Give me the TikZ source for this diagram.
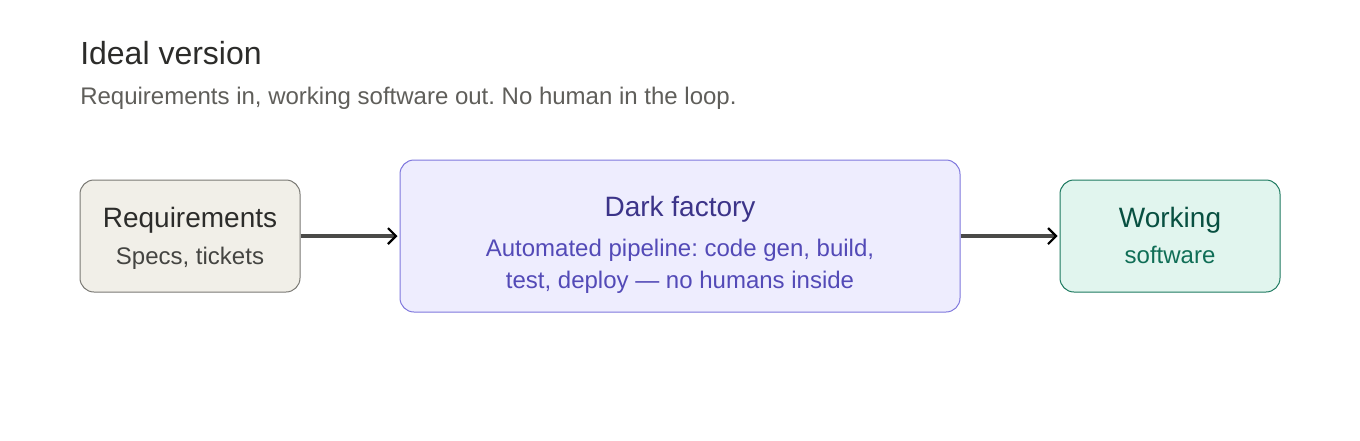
\documentclass[tikz,border=0pt]{standalone}
\usepackage{fontspec}
\setmainfont{Liberation Sans}
\frenchspacing
\usetikzlibrary{arrows.meta}
\definecolor{titlec}{HTML}{2C2C2A}
\definecolor{subc}{HTML}{5F5E5A}
\definecolor{reqfill}{HTML}{F1EFE8}
\definecolor{reqdraw}{HTML}{7A7974}
\definecolor{reqtext}{HTML}{2C2C2A}
\definecolor{reqsub}{HTML}{444441}
\definecolor{dffill}{HTML}{EEEDFE}
\definecolor{dfdraw}{HTML}{7F77DD}
\definecolor{dftext}{HTML}{3C3489}
\definecolor{dfsub}{HTML}{534AB7}
\definecolor{wkfill}{HTML}{E1F5EE}
\definecolor{wkdraw}{HTML}{1D7A60}
\definecolor{wktext}{HTML}{085041}
\definecolor{wksub}{HTML}{0F6E56}
\definecolor{arrowc}{HTML}{4A4A48}
\tikzset{
  box/.style={rounded corners=10.5pt, line width=0.75pt, inner sep=0pt},
  lbl/.style={anchor=base, inner sep=0pt},
  conn/.style={draw=arrowc, line width=2.4pt, -{Straight Barb[length=6pt,width=12pt,line width=1.6pt,color=black]}, shorten >=1.5pt},
}
\begin{document}
\begin{tikzpicture}[x=0.75pt,y=-0.75pt]
\useasboundingbox[fill=white] (0,0) rectangle (1360,440);
\node[anchor=base west, inner sep=0pt, text=titlec, font=\fontsize{24pt}{28pt}\selectfont] (title) at (80,64) {Ideal version};
\node[anchor=base west, inner sep=0pt, text=subc, font=\fontsize{18pt}{22pt}\selectfont] (subtitle) at (80,104) {Requirements in, working software out. No human in the loop.};
% boxes
\node[box, fill=reqfill, draw=reqdraw, minimum width=165pt, minimum height=84pt] (req) at (190,236) {};
\node[box, fill=dffill, draw=dfdraw, minimum width=420pt, minimum height=114pt] (df) at (680,236) {};
\node[box, fill=wkfill, draw=wkdraw, minimum width=165pt, minimum height=84pt] (wk) at (1170,236) {};
% labels
\node[lbl, text=reqtext, font=\fontsize{21pt}{25pt}\selectfont] (reqt) at (190,227) {Requirements};
\node[lbl, text=reqsub, font=\fontsize{18pt}{22pt}\selectfont] (reqs) at (190,264) {Specs, tickets};
\node[lbl, text=dftext, font=\fontsize{21pt}{25pt}\selectfont] (dft) at (680,216) {Dark factory};
\node[lbl, text=dfsub, font=\fontsize{18pt}{22pt}\selectfont] (dfs1) at (680,256) {Automated pipeline: code gen, build,};
\node[lbl, text=dfsub, font=\fontsize{18pt}{22pt}\selectfont] (dfs2) at (680,288) {test, deploy — no humans inside};
\node[lbl, text=wktext, font=\fontsize{21pt}{25pt}\selectfont] (wkt) at (1170,227) {Working};
\node[lbl, text=wksub, font=\fontsize{18pt}{22pt}\selectfont] (wks) at (1170,263) {software};
% connectors
\draw[conn] (req.east) -- (df.west);
\draw[conn] (df.east) -- (wk.west);
\end{tikzpicture}
\end{document}
